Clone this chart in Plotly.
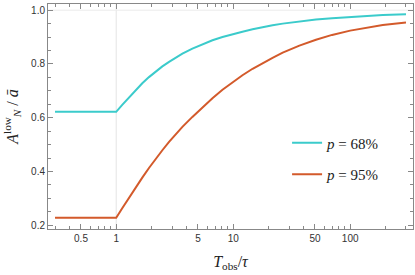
import plotly.graph_objects as go

# T_obs / tau values and curve values
t_68 = [0.3, 1.0, 1.126, 1.285, 1.466, 1.671, 1.906, 2.175, 2.48, 2.83, 3.23, 3.68, 4.48, 5.46,
        6.65, 8.1, 9.87, 12, 14.65, 17.8, 21.7, 26.5, 36.8, 51, 70, 100, 140, 190, 300]
a_68 = [0.622, 0.622, 0.648, 0.676, 0.703, 0.728, 0.751, 0.772, 0.791, 0.808, 0.824, 0.838, 0.857, 0.874,
        0.888, 0.900, 0.911, 0.920, 0.929, 0.937, 0.944, 0.950, 0.958, 0.965, 0.970, 0.975, 0.979, 0.982, 0.985]

t_95 = [0.3, 1.0, 1.126, 1.285, 1.466, 1.671, 1.906, 2.175, 2.48, 2.83, 3.23, 3.68, 4.48, 5.46,
        6.65, 8.1, 10, 12, 14.65, 17.8, 21.7, 26.5, 36.8, 51, 70, 100, 140, 190, 300]
a_95 = [0.228, 0.228, 0.263, 0.302, 0.340, 0.377, 0.413, 0.447, 0.479, 0.510, 0.539, 0.566, 0.603, 0.639,
        0.672, 0.704, 0.734, 0.758, 0.782, 0.803, 0.823, 0.842, 0.868, 0.890, 0.908, 0.924, 0.936, 0.945, 0.954]

names = ["<i>p</i> = 68%", "<i>p</i> = 95%"]
colors = ["#3BCBCB", "#D35A2B"]

x_major = [0.5, 1, 5, 10, 50, 100]
x_labels = ["0.5", "1", "5", "10", "50", "100"]
x_minor = [0.3, 0.4, 0.6, 0.7, 0.8, 0.9, 2, 3, 4, 6, 7, 8, 9, 20, 30, 40, 60, 70, 80, 90, 200, 300]
y_major = [0.2, 0.4, 0.6, 0.8, 1.0]
y_labels = ["0.2", "0.4", "0.6", "0.8", "1.0"]
y_minor = [0.25, 0.3, 0.35, 0.45, 0.5, 0.55, 0.65, 0.7, 0.75, 0.85, 0.9, 0.95]

fig = go.Figure()
for i, (t, a) in enumerate([(t_68, a_68), (t_95, a_95)]):
    fig.add_trace(go.Scatter(x=t, y=a, mode="lines", name=names[i], legendgroup=str(i),
                             line=dict(color=colors[i], width=2, shape="linear")))

# grid lines at x = 1 and y = 1
fig.add_shape(type="line", xref="x", yref="paper", x0=1, x1=1, y0=0, y1=1,
              line=dict(color="#E4E4E4", width=1), layer="below")
fig.add_shape(type="line", xref="paper", yref="y", x0=0, x1=1, y0=1.0, y1=1.0,
              line=dict(color="#EBEBEB", width=1), layer="below")

axis_common = dict(showline=True, linecolor="#888888", linewidth=1, mirror="allticks",
                   ticks="inside", tickcolor="#888888", ticklen=5, showgrid=False, zeroline=False,
                   tickfont=dict(family="Liberation Sans, Arial", size=10, color="#333333"))

fig.update_xaxes(type="log", range=[-0.583, 2.537], tickmode="array",
                 tickvals=x_major, ticktext=x_labels,
                 minor=dict(tickvals=x_minor, ticklen=3, tickcolor="#888888", ticks="inside"),
                 title=dict(text="<i>T</i><sub>obs</sub>/<i>τ</i>",
                            font=dict(family="Liberation Serif, DejaVu Serif", size=16, color="#222222"),
                            standoff=12),
                 **axis_common)
fig.update_yaxes(range=[0.186, 1.023], tickmode="array", tickvals=y_major, ticktext=y_labels,
                 minor=dict(tickvals=y_minor, ticklen=3, tickcolor="#888888", ticks="inside"),
                 title=dict(text="<i>A</i><sup>low</sup><sub><i>N</i></sub> / <i>ā</i>",
                            font=dict(family="Liberation Serif, DejaVu Serif", size=16, color="#222222"),
                            standoff=8),
                 **axis_common)

fig.update_layout(
    width=415, height=275,
    margin=dict(l=48, r=2, t=4, b=46),
    plot_bgcolor="white", paper_bgcolor="white",
    showlegend=True,
    legend=dict(x=0.655, y=0.313, xanchor="left", yanchor="middle",
                bgcolor="rgba(0,0,0,0)", tracegroupgap=9, itemwidth=30,
                font=dict(family="Liberation Serif, DejaVu Serif", size=15, color="#222222")),
)

fig.write_html("out.html", config={"displayModeBar": False},
               post_script="document.body.style.margin='0px';")
